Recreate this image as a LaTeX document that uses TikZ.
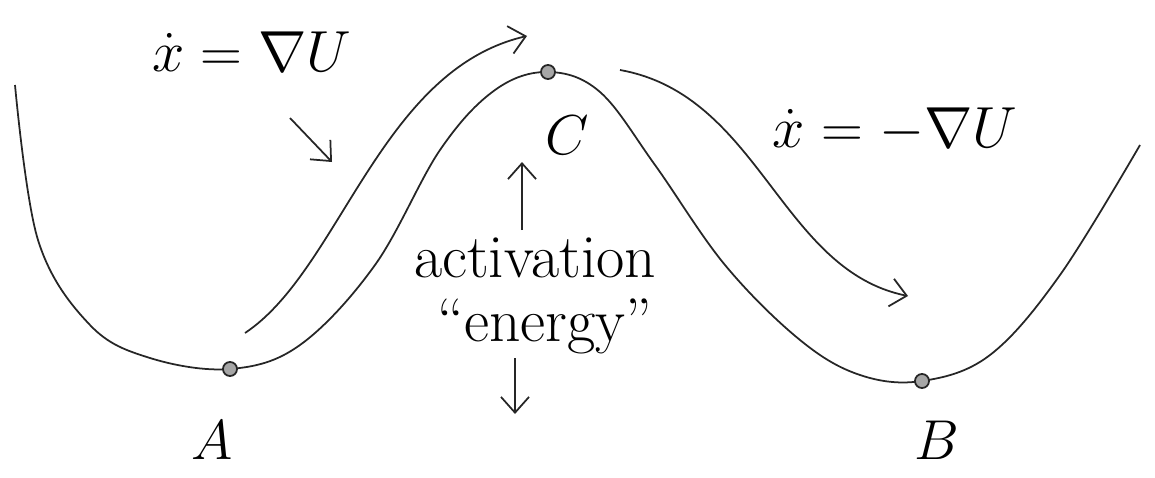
\RequirePackage{fix-cm}
\documentclass[tikz,border=0pt]{standalone}
\usepackage{amsmath, amssymb}
\usepackage{tikz}
\usetikzlibrary{arrows.meta}

\tikzset{
    pen/.style={line width=1pt, draw=black!85},
    flow/.style={pen, -{Straight Barb[length=9pt, width=16pt, line width=1pt]}},
    label/.style={font=\fontsize{32}{36}\selectfont, inner sep=0pt},
    law/.style={font=\fontsize{33}{38}\selectfont, inner sep=0pt},
    note/.style={font=\fontsize{35}{35}\selectfont, inner sep=0pt},
    well/.style={pen, fill=black!35, circle, minimum size=8pt, inner sep=0pt}
}

\begin{document}
\begin{tikzpicture}[x=0.02cm, y=-0.02cm]
    \useasboundingbox (0,0) rectangle (1155,477);

    % potential landscape
    \draw[pen] plot[smooth, tension=0.6] coordinates {
        (15,85) (38,240) (90,325) (150,358) (230,369) (300,345) (375,265)
        (440,150) (495,90) (548,72) (600,92) (655,165) (725,265) (800,340)
        (860,375) (922,381) (990,355) (1060,275) (1140,145)};

    % critical points
    \node[well] (ptA) at (230,369) {};
    \node[well] (ptC) at (548,72) {};
    \node[well] (ptB) at (922,381) {};

    \node[label] (labA) at (212,440) {$A$};
    \node[label] (labB) at (937,440) {$B$};
    \node[label] (labC) at (567,135) {$C$};

    % dynamics
    \node[law] (eqUp) at (252,52) {$\dot{x} = \nabla U$};
    \node[law] (eqDown) at (895,130) {$\dot{x} = -\nabla U$};

    \coordinate (upStart) at (245,333);
    \coordinate (upEnd) at (527,36);
    \draw[flow] (upStart) .. controls (340,270) and (380,70) .. (upEnd);

    \coordinate (downStart) at (620,70);
    \coordinate (downEnd) at (908,296);
    \draw[flow] (downStart) .. controls (760,95) and (780,270) .. (downEnd);

    \coordinate (hintStart) at (290,118);
    \coordinate (hintEnd) at (332,162);
    \draw[flow] (hintStart) -- (hintEnd);

    % barrier height
    \node[note] (act) at (535,258) {activation};
    \node[note] (nrg) at (545,326) {``energy''};
    \coordinate (barUp) at (522,230);
    \draw[flow] (barUp) -- (522,162);
    \coordinate (barDown) at (515,358);
    \draw[flow] (barDown) -- (515,414);
\end{tikzpicture}
\end{document}
